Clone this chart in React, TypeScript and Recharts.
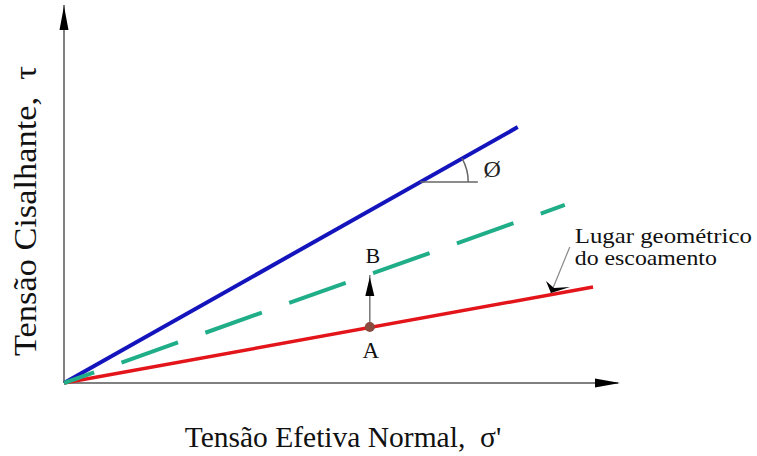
import React from "react";
import {
  LineChart,
  Line,
  XAxis,
  YAxis,
  ReferenceDot,
  ReferenceLine,
} from "recharts";

// envoltórias (unidades arbitrárias, 0..100 nos dois eixos)
const blueLine = [
  { x: 0, y: 0 },
  { x: 81.9, y: 67.7 },
];
const greenLine = [
  { x: 0, y: 0 },
  { x: 90.4, y: 47.1 },
];
const redLine = [
  { x: 0, y: 0 },
  { x: 95.5, y: 25.4 },
];
const pointA = { x: 55.2, y: 14.8 };
const pointB = { x: 55.2, y: 28.6 };
const angleVertex = { x: 64.3, y: 53.2 };
const angleLineEnd = 74.7;
const leaderStart = { x: 91.3, y: 36.0 };
const leaderTip = { x: 87.9, y: 23.8 };
const axisEnds = { x: 100, y: 100 };

const labels = {
  x: "Tensão Efetiva Normal,\u00a0 σ'",
  y: "Tensão Cisalhante,\u00a0 τ",
  locus: ["Lugar geométrico", "do escoamento"],
  phi: "Ø",
};

const FONT = "Liberation Serif";
const AXIS = "#808080";

const App = () => {
  return (
    <div style={{ position: "absolute", left: 0, top: 0 }}>
      <LineChart
        width={757}
        height={456}
        data={redLine}
        margin={{ top: 5, right: 139, bottom: 73, left: 64 }}
      >
        <XAxis type="number" dataKey="x" domain={[0, 100]} hide />
        <YAxis type="number" dataKey="y" domain={[0, 100]} hide />

        {/* eixos */}
        <ReferenceLine
          segment={[
            { x: 0, y: 0 },
            { x: axisEnds.x, y: 0 },
          ]}
          stroke={AXIS}
          strokeWidth={2}
          ifOverflow="visible"
        />
        <ReferenceLine
          segment={[
            { x: 0, y: 0 },
            { x: 0, y: axisEnds.y },
          ]}
          stroke={AXIS}
          strokeWidth={2}
          ifOverflow="visible"
        />

        <Line
          data={blueLine}
          dataKey="y"
          stroke="#1414bd"
          strokeWidth={4}
          dot={false}
          isAnimationActive={false}
        />
        <Line
          data={redLine}
          dataKey="y"
          stroke="#e3151a"
          strokeWidth={3.5}
          dot={false}
          isAnimationActive={false}
        />
        <Line
          data={greenLine}
          dataKey="y"
          stroke="#1fae88"
          strokeWidth={4}
          strokeDasharray="60 29"
          strokeDashoffset={28}
          dot={false}
          isAnimationActive={false}
        />

        {/* horizontal de referência do ângulo */}
        <ReferenceLine
          segment={[
            { x: angleVertex.x, y: angleVertex.y },
            { x: angleLineEnd, y: angleVertex.y },
          ]}
          stroke="#666"
          strokeWidth={1.5}
        />
        <ReferenceDot
          x={angleVertex.x}
          y={angleVertex.y}
          ifOverflow="visible"
          shape={({ cx, cy }: any) => {
            const r = 48;
            const a = (29.4 * Math.PI) / 180;
            return (
              <g>
                <path
                  d={`M ${cx + r} ${cy} A ${r} ${r} 0 0 0 ${cx + r * Math.cos(a)} ${cy - r * Math.sin(a)}`}
                  stroke="#666"
                  strokeWidth={1.5}
                  fill="none"
                />
                <text
                  x={cx + 72}
                  y={cy - 5}
                  textAnchor="middle"
                  fontFamily={FONT}
                  fontSize={24}
                  fill="#222"
                >
                  {labels.phi}
                </text>
              </g>
            );
          }}
        />

        {/* seta A -> B */}
        <ReferenceLine
          segment={[
            { x: pointA.x, y: pointA.y },
            { x: pointB.x, y: pointB.y },
          ]}
          stroke="#777"
          strokeWidth={1.5}
        />
        <ReferenceDot
          x={pointB.x}
          y={pointB.y}
          ifOverflow="visible"
          shape={({ cx, cy }: any) => (
            <g>
              <path
                d={`M ${cx} ${cy + 2} L ${cx - 4.5} ${cy + 21} L ${cx + 4.5} ${cy + 21} Z`}
                fill="#000"
              />
              <text
                x={cx + 3}
                y={cy - 12}
                textAnchor="middle"
                fontFamily={FONT}
                fontSize={22}
                fill="#111"
              >
                B
              </text>
            </g>
          )}
        />
        <ReferenceDot
          x={pointA.x}
          y={pointA.y}
          ifOverflow="visible"
          shape={({ cx, cy }: any) => (
            <g>
              <circle cx={cx} cy={cy} r={5} fill="#8a4b3f" />
              <text
                x={cx + 1}
                y={cy + 31}
                textAnchor="middle"
                fontFamily={FONT}
                fontSize={23}
                fill="#111"
              >
                A
              </text>
            </g>
          )}
        />

        {/* lugar geométrico do escoamento */}
        <ReferenceLine
          segment={[leaderStart, leaderTip]}
          stroke="#888"
          strokeWidth={1.2}
        />
        <ReferenceDot
          x={leaderTip.x}
          y={leaderTip.y}
          ifOverflow="visible"
          shape={({ cx, cy }: any) => (
            <path
              d={`M ${cx} ${cy} L ${cx - 5} ${cy - 12} L ${cx + 3} ${cy - 5} L ${cx + 19} ${cy - 6} Z`}
              fill="#000"
            />
          )}
        />
        <ReferenceDot
          x={leaderStart.x}
          y={leaderStart.y}
          ifOverflow="visible"
          shape={({ cx, cy }: any) => (
            <g>
              <text
                x={cx + 5}
                y={cy - 4}
                fontFamily={FONT}
                fontSize={21}
                fill="#111"
                textLength={177}
                lengthAdjust="spacingAndGlyphs"
              >
                {labels.locus[0]}
              </text>
              <text
                x={cx + 5}
                y={cy + 18}
                fontFamily={FONT}
                fontSize={21}
                fill="#111"
                textLength={142}
                lengthAdjust="spacingAndGlyphs"
              >
                {labels.locus[1]}
              </text>
            </g>
          )}
        />

        {/* pontas das setas e títulos dos eixos */}
        <ReferenceDot
          x={0}
          y={axisEnds.y}
          ifOverflow="visible"
          shape={({ cx, cy }: any) => (
            <path
              d={`M ${cx} ${cy + 1} L ${cx - 4.5} ${cy + 25} L ${cx + 4.5} ${cy + 25} Z`}
              fill="#000"
            />
          )}
        />
        <ReferenceDot
          x={axisEnds.x}
          y={0}
          ifOverflow="visible"
          shape={({ cx, cy }: any) => (
            <path
              d={`M ${cx + 2} ${cy} L ${cx - 23} ${cy - 4.5} L ${cx - 23} ${cy + 4.5} Z`}
              fill="#000"
            />
          )}
        />
        <ReferenceDot
          x={0}
          y={0}
          ifOverflow="visible"
          shape={({ cx, cy }: any) => (
            <g>
              <text
                x={cx + 279}
                y={cy + 64}
                textAnchor="middle"
                fontFamily={FONT}
                fontSize={29.5}
                fill="#111"
              >
                {labels.x}
              </text>
              <text
                transform={`translate(${cx - 28},${cy - 172}) rotate(-90)`}
                textAnchor="middle"
                fontFamily={FONT}
                fontSize={32}
                fill="#111"
                textLength={290}
                lengthAdjust="spacingAndGlyphs"
              >
                {labels.y}
              </text>
            </g>
          )}
        />
      </LineChart>
    </div>
  );
};

export default App;
